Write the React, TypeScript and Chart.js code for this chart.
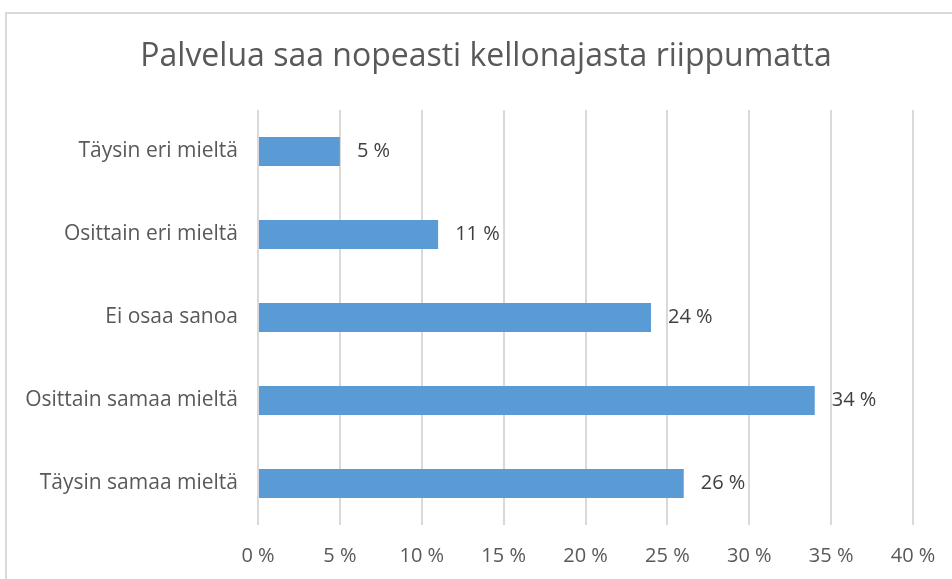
import React, { useEffect, useRef } from "react";
import { Chart, registerables } from "chart.js";

Chart.register(...registerables);

const title = "Palvelua saa nopeasti kellonajasta riippumatta";
const categories = [
  "Täysin eri mieltä",
  "Osittain eri mieltä",
  "Ei osaa sanoa",
  "Osittain samaa mieltä",
  "Täysin samaa mieltä",
];
const values = [5, 11, 24, 34, 26];
const xMin = 0;
const xMax = 40;
const xStep = 5;

const FONT = "'Open Sans', sans-serif";
const TEXT = "#595959";

const titlePlugin = {
  id: "customTitle",
  afterDraw(chart: any) {
    const ctx = chart.ctx;
    ctx.save();
    ctx.font = `32px ${FONT}`;
    ctx.fillStyle = TEXT;
    ctx.textAlign = "center";
    ctx.textBaseline = "middle";
    ctx.fillText(title, chart.width / 2, 57);
    ctx.restore();
  },
};

const labelPlugin = {
  id: "barLabels",
  afterDatasetsDraw(chart: any) {
    const ctx = chart.ctx;
    const meta = chart.getDatasetMeta(0);
    ctx.save();
    ctx.font = `20px ${FONT}`;
    ctx.fillStyle = "#404040";
    ctx.textAlign = "left";
    ctx.textBaseline = "middle";
    meta.data.forEach((bar: any, i: number) => {
      ctx.fillText(`${values[i]} %`, bar.x + 17, bar.y);
    });
    ctx.restore();
  },
};

export default function App() {
  const ref = useRef<HTMLCanvasElement>(null);
  useEffect(() => {
    const chart = new Chart(ref.current!, {
      type: "bar",
      data: {
        labels: categories,
        datasets: [
          {
            data: values,
            backgroundColor: "#5B9BD5",
            borderWidth: 0,
            barPercentage: 0.7,
            categoryPercentage: 0.5,
          },
        ],
      },
      options: {
        indexAxis: "y",
        animation: false,
        responsive: false,
        maintainAspectRatio: false,
        layout: { padding: { top: 110, right: 59, left: 0, bottom: 11 } },
        plugins: {
          legend: { display: false },
          title: { display: false },
          tooltip: { enabled: false },
        },
        scales: {
          x: {
            min: xMin,
            max: xMax,
            afterFit: (scale: any) => {
              scale.height = 64;
            },
            ticks: {
              stepSize: xStep,
              padding: 19,
              color: TEXT,
              font: { family: FONT, size: 20 },
              callback: (v: any) => `${v} %`,
            },
            grid: { color: "#d9d9d9", lineWidth: 2, drawTicks: false },
            border: { display: false },
          },
          y: {
            ticks: {
              padding: 20,
              color: TEXT,
              font: { family: FONT, size: 21 },
            },
            grid: { display: false, drawTicks: false },
            border: { display: false },
            afterFit: (scale: any) => {
              scale.width = 258;
            },
          },
        },
      },
      plugins: [titlePlugin, labelPlugin],
    });
    return () => chart.destroy();
  }, []);

  return (
    <div
      style={{
        position: "absolute",
        left: 0,
        top: 0,
        width: 952,
        height: 579,
        overflow: "hidden",
        background: "#fff",
      }}
    >
      <div
        style={{
          position: "absolute",
          left: 5,
          top: 12,
          width: 1000,
          height: 700,
          border: "2px solid #d9d9d9",
          boxSizing: "border-box",
        }}
      />
      <canvas
        ref={ref}
        width={972}
        height={600}
        style={{ position: "absolute", left: 0, top: 0 }}
      />
    </div>
  );
}
